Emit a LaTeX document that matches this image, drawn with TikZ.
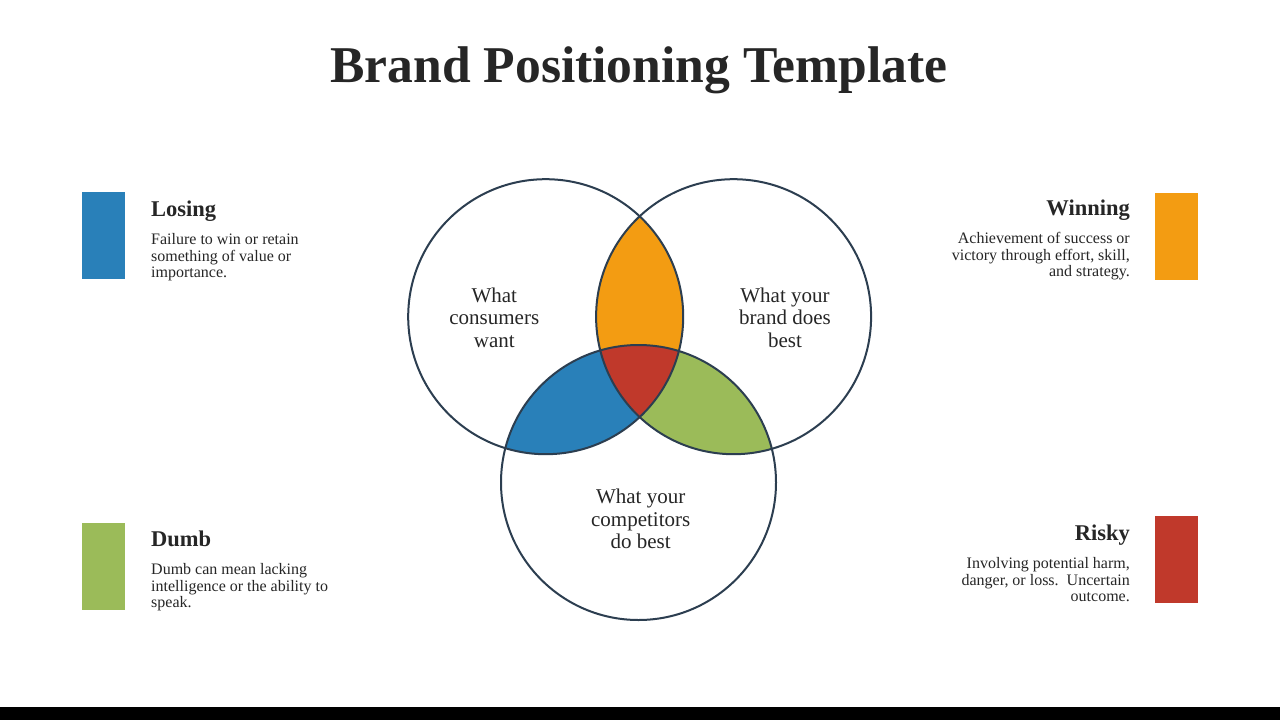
\documentclass[tikz,border=0pt]{standalone}
\usepackage{fontspec}
\setmainfont{Liberation Serif}
\definecolor{cblue}{HTML}{2980B9}
\definecolor{corange}{HTML}{F39C12}
\definecolor{cgreen}{HTML}{9BBB59}
\definecolor{cred}{HTML}{C0392B}
\definecolor{cline}{HTML}{2C3E50}
\definecolor{ctext}{HTML}{262626}
\begin{document}
\begin{tikzpicture}[x=1pt,y=-1pt,
  every node/.style={text=ctext, inner sep=0pt},
  titletext/.style={font=\fontsize{51.6}{55}\selectfont\bfseries, anchor=base},
  headtext/.style={font=\fontsize{22.5}{24}\selectfont\bfseries},
  bodytext/.style={font=\fontsize{16}{16.5}\selectfont},
  circtext/.style={font=\fontsize{21}{22.5}\selectfont, align=center, anchor=north},
  bar/.style={minimum width=43pt, minimum height=87pt, draw=none},
  ring/.style={draw=cline, line width=2pt}]
\useasboundingbox (0,0) rectangle (1280,720);
\fill[white] (0,0) rectangle (1280,720);
\fill[black] (0,707) rectangle (1280,720);
\def\R{137.5pt}
\coordinate (cL) at (545.7,316.7);
\coordinate (cR) at (733.6,316.7);
\coordinate (cB) at (638.5,482.5);
% pairwise overlaps
\begin{scope}
  \clip (cL) circle [radius=\R];
  \fill[corange] (cR) circle [radius=\R];
\end{scope}
\begin{scope}
  \clip (cL) circle [radius=\R];
  \fill[cblue] (cB) circle [radius=\R];
\end{scope}
\begin{scope}
  \clip (cR) circle [radius=\R];
  \fill[cgreen] (cB) circle [radius=\R];
\end{scope}
\begin{scope}
  \clip (cL) circle [radius=\R];
  \clip (cR) circle [radius=\R];
  \fill[cred] (cB) circle [radius=\R];
\end{scope}
\draw[ring] (cL) circle [radius=\R];
\draw[ring] (cR) circle [radius=\R];
\draw[ring] (cB) circle [radius=\R];
% title
\node[titletext] (title) at (639,82) {Brand Positioning Template};
% circle labels
\node[circtext] (tL) at (494.3,287.4) {What\\consumers\\want};
\node[circtext] (tR) at (785,287.4) {What your\\brand does\\best};
\node[circtext] (tB) at (640.7,489) {What your\\competitors\\do best};
% colour keys
\node[bar, fill=cblue] (barLosing) at (103.5,235.5) {};
\node[bar, fill=cgreen] (barDumb) at (103.5,566.5) {};
\node[bar, fill=corange] (barWinning) at (1176.5,236.5) {};
\node[bar, fill=cred] (barRisky) at (1176.5,559.5) {};
% left texts
\node[headtext, anchor=base west] (hLosing) at (151,216.7) {Losing};
\node[bodytext, anchor=north west, align=left] (bLosing) at (151,233.4)
  {Failure to win or retain\\something of value or\\importance.};
\node[headtext, anchor=base west] (hDumb) at (151,546.7) {Dumb};
\node[bodytext, anchor=north west, align=left] (bDumb) at (151,563.4)
  {Dumb can mean lacking\\intelligence or the ability to\\speak.};
% right texts
\node[headtext, anchor=base east] (hWinning) at (1130,215.7) {Winning};
\node[bodytext, anchor=north east, align=right] (bWinning) at (1130,232.4)
  {Achievement of success or\\victory through effort, skill,\\and strategy.};
\node[headtext, anchor=base east] (hRisky) at (1130,540) {Risky};
\node[bodytext, anchor=north east, align=right] (bRisky) at (1130,557.4)
  {Involving potential harm,\\danger, or loss.\ \ Uncertain\\outcome.};
\end{tikzpicture}
\end{document}
